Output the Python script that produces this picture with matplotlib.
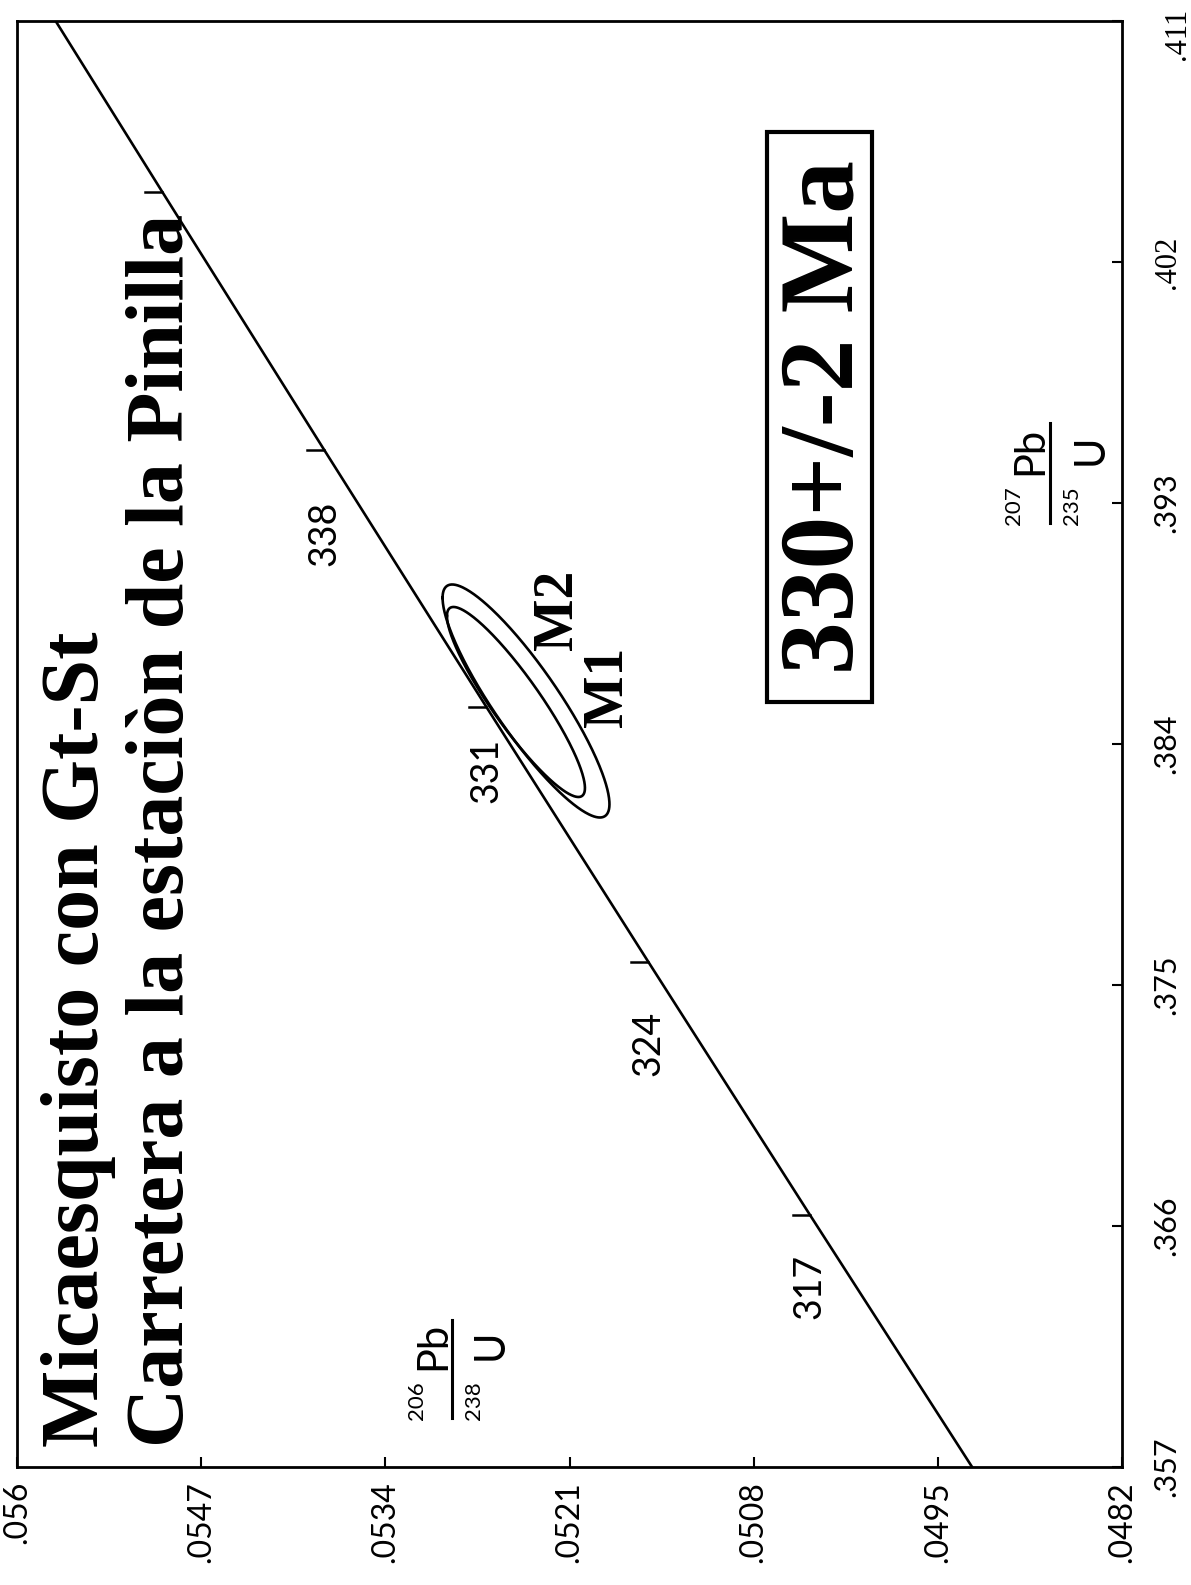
import numpy as np
import matplotlib.pyplot as plt
from matplotlib.lines import Line2D
from matplotlib.patches import Rectangle

# --- data ---
# concordia points (age in Ma, 206Pb/238U, 207Pb/235U)
ages = [308, 317, 324, 331, 338, 345, 352]
r206 = [0.048938, 0.050404, 0.051545, 0.052688, 0.053831, 0.054976, 0.056122]
r207 = [0.354367, 0.366424, 0.375876, 0.385395, 0.394979, 0.404631, 0.414346]
tick_ages = [317, 324, 331, 338, 345]
labelled_ages = [317, 324, 331, 338]
label_r207 = [0.36376, 0.37283, 0.38303, 0.39188]

# error ellipses: centre, half extents, correlation
ell_names = ['M1', 'M2']
ell_x = [0.052407, 0.052478]
ell_y = [0.385606, 0.385569]
ell_sx = [0.000589, 0.000487]
ell_sy = [0.004351, 0.003548]
ell_rho = [0.885, 0.905]

xticks = [0.056, 0.0547, 0.0534, 0.0521, 0.0508, 0.0495, 0.0482]
xticklabels = ['.056', '.0547', '.0534', '.0521', '.0508', '.0495', '.0482']
yticks = [0.357, 0.366, 0.375, 0.384, 0.393, 0.402, 0.411]
yticklabels = ['.357', '.366', '.375', '.384', '.393', '.402', '.411']

W, H = 1191, 1585
SANS = ['Lato', 'DejaVu Sans']
SERIF = ['Liberation Serif', 'DejaVu Serif']


def fx(px):
    return px / W


def fy(py):
    return 1 - py / H


fig = plt.figure(figsize=(W / 100, H / 100), dpi=100)
ax = fig.add_axes([fx(17), fy(1467), (1122 - 17) / W, (1467 - 21) / H])

ax.set_xlim(0.056, 0.0482)
ax.set_ylim(0.357, 0.411)

# concordia
ax.plot(r206, r207, color='black', lw=1.9, solid_capstyle='butt')

# age ticks on the concordia, small marks toward higher 206/238
for a in tick_ages:
    i = ages.index(a)
    ax.plot([r206[i], r206[i] + 0.00012], [r207[i], r207[i]], color='black', lw=1.8)
for a, ly in zip(labelled_ages, label_r207):
    i = ages.index(a)
    ax.text(r206[i], ly, str(a), rotation=90, ha='center', va='center',
            fontsize=27, family=SANS)

# ellipses
t = np.linspace(0, 2 * np.pi, 400)
for cx, cy, sx, sy, rho in zip(ell_x, ell_y, ell_sx, ell_sy, ell_rho):
    ex = cx + sx * np.cos(t)
    ey = cy + sy * (rho * np.cos(t) + np.sqrt(1 - rho ** 2) * np.sin(t))
    ax.plot(ex, ey, color='black', lw=1.9)

fig.text(fx(608), fy(687), ell_names[0], rotation=90, ha='center', va='center',
         fontsize=40, family=SERIF, fontweight='bold')
fig.text(fx(558), fy(610), ell_names[1], rotation=90, ha='center', va='center',
         fontsize=40, family=SERIF, fontweight='bold')

# axes styling
for s in ax.spines.values():
    s.set_linewidth(2.0)
ax.set_xticks(xticks, xticklabels)
ax.yaxis.tick_right()
ax.set_yticks(yticks, [l if l != '.411' else '' for l in yticklabels])
ax.tick_params(axis='x', direction='in', length=7, width=1.5, pad=10, labelsize=23,
               labelrotation=90)
ax.tick_params(axis='y', direction='in', length=7, width=1.5, pad=22, labelsize=22,
               labelrotation=90)
for lab in ax.get_xticklabels():
    lab.set_family(SANS)
for lab in ax.get_yticklabels():
    lab.set_family(SERIF if lab.get_text() == '.402' else SANS)
    lab.set_va('center')
# top label sits below the corner in the original
fig.text(fx(1163), fy(34), '.411', rotation=90, ha='left', va='center',
         fontsize=22, family=SERIF)

# axis labels as stacked fractions
def frac(num, iso, el, iso2, px_num, px_pb, px_bar, px_den, px_u, y0, y_pb, y_u, y_top):
    kw = dict(rotation=90, rotation_mode='anchor', ha='left', va='baseline', family=SANS)
    fig.text(fx(px_num), fy(y0), num, fontsize=16, **kw)
    fig.text(fx(px_pb), fy(y_pb), iso, fontsize=30, **kw)
    fig.text(fx(px_den), fy(y0), iso2, fontsize=16, **kw)
    fig.text(fx(px_u), fy(y_u), el, fontsize=30, **kw)
    fig.add_artist(Line2D([fx(px_bar), fx(px_bar)], [fy(y0 - 2), fy(y_top)],
                          color='black', lw=2.2, transform=fig.transFigure))


frac('206', 'Pb', 'U', '238', 423, 445, 452, 480, 503, 1420, 1370, 1360, 1320)
frac('207', 'Pb', 'U', '235', 1020, 1042, 1050, 1078, 1103, 525, 475, 465, 423)

# title
tkw = dict(rotation=90, rotation_mode='anchor', ha='left', va='baseline',
           family=SERIF, fontweight='bold', fontsize=59)
fig.text(fx(98), fy(1447), 'Micaesquisto con Gt-St', **tkw)
fig.text(fx(183), fy(1447), 'Carretera a la estaciòn de la Pinilla', **tkw)

# age result box
fig.add_artist(Rectangle((fx(767), fy(702)), (872 - 767) / W, (702 - 132) / H,
                         fill=False, lw=3, edgecolor='black', transform=fig.transFigure))
fig.text(fx(852), fy(417), '330+/-2 Ma', rotation=90, rotation_mode='anchor',
         ha='center', va='baseline', family=SERIF, fontweight='bold', fontsize=76)

fig.savefig('out.png', dpi=100, facecolor='white')
